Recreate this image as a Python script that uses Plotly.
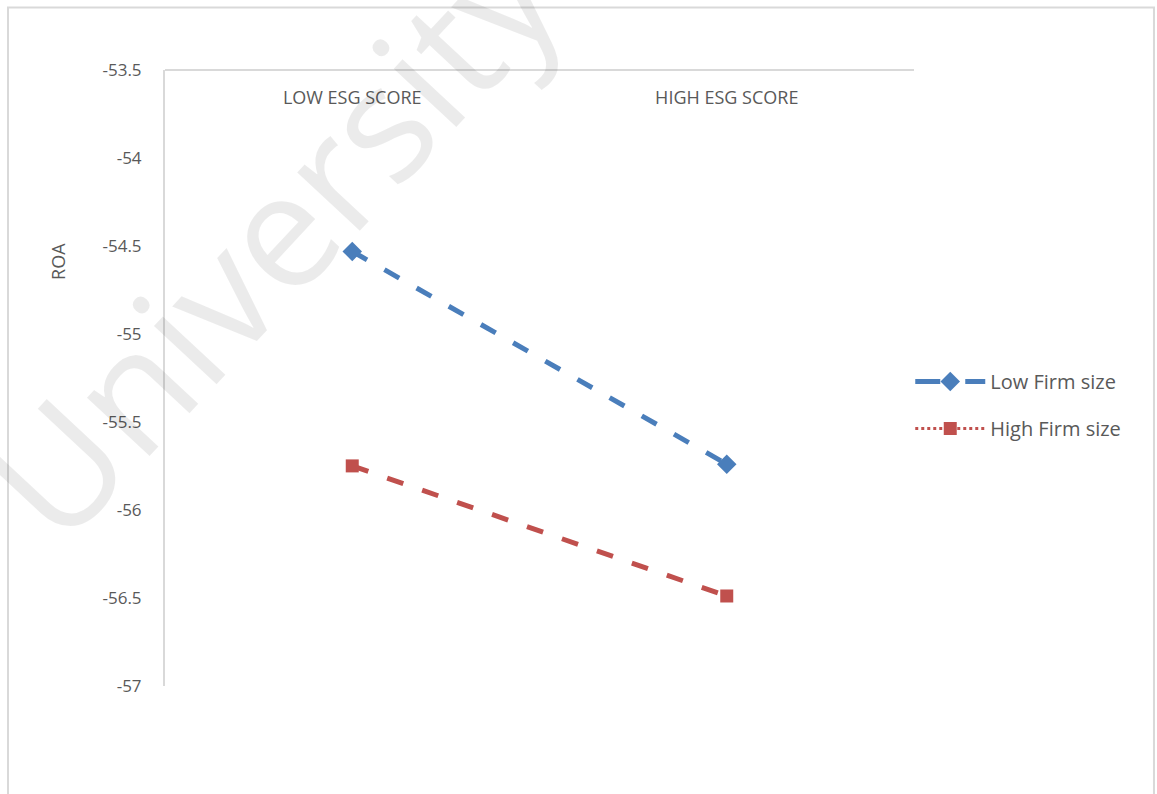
import plotly.graph_objects as go

# ESG score groups on the category axis
categories = ["LOW ESG SCORE", "HIGH ESG SCORE"]

# ROA for each firm-size group
low_firm_size = [-54.53, -55.74]
high_firm_size = [-55.75, -56.49]

series_names = ["Low Firm size", "High Firm size"]

# y-axis ticks
y_tick_values = [-53.5, -54, -54.5, -55, -55.5, -56, -56.5, -57]
y_tick_labels = ["-53.5", "-54", "-54.5", "-55", "-55.5", "-56", "-56.5", "-57"]

BLUE = "#4a7ebb"
RED = "#c0504d"
TEXT = "#595959"
AXIS = "#d9d9d9"
FONT = "Open Sans"

fig = go.Figure()

# plotted lines (legend entries are drawn separately below)
fig.add_trace(go.Scatter(
    x=categories, y=low_firm_size, mode="lines+markers", showlegend=False,
    line=dict(color=BLUE, width=5, dash="17px,20px"),
    marker=dict(symbol="diamond", size=15, color=BLUE),
))
fig.add_trace(go.Scatter(
    x=categories, y=high_firm_size, mode="lines+markers", showlegend=False,
    line=dict(color=RED, width=5, dash="17px,20px"),
    marker=dict(symbol="square", size=13, color=RED),
))

# legend samples
fig.add_trace(go.Scatter(
    x=[None], y=[None], mode="lines+markers", name=series_names[0],
    legendgroup="a",
    line=dict(color=BLUE, width=5, dash="longdash"),
    marker=dict(symbol="diamond", size=15, color=BLUE),
))
fig.add_trace(go.Scatter(
    x=[None], y=[None], mode="lines+markers", name=series_names[1],
    legendgroup="b",
    line=dict(color=RED, width=3, dash="dot"),
    marker=dict(symbol="square", size=13, color=RED),
))

fig.update_layout(
    width=1157, height=794,
    margin=dict(l=165, r=243, t=70, b=108),
    paper_bgcolor="white", plot_bgcolor="white",
    font=dict(family=FONT, color=TEXT, size=16),
    legend=dict(
        x=0.995, y=0.456, xanchor="left", yanchor="middle",
        font=dict(size=20, color=TEXT), tracegroupgap=18,
        itemwidth=70, bgcolor="rgba(0,0,0,0)",
    ),
    # category axis sits on the top edge of the plot, labels hanging below it
    xaxis=dict(
        type="category", side="bottom", anchor="free", position=1.0,
        range=[-0.5, 1.5],
        showline=True, linecolor=AXIS, linewidth=2,
        showgrid=False, zeroline=False, ticks="",
        ticklabelstandoff=11,
        tickfont=dict(size=18, color=TEXT),
    ),
    yaxis=dict(
        range=[-57.002, -53.498], tickvals=y_tick_values, ticktext=y_tick_labels,
        showline=True, linecolor=AXIS, linewidth=2,
        showgrid=False, zeroline=False, ticks="", ticklabelstandoff=18,
        tickfont=dict(size=17, color=TEXT),
    ),
    annotations=[
        dict(text="ROA", xref="paper", yref="paper", x=-0.1429, y=0.69,
             xanchor="center", yanchor="middle",
             showarrow=False, textangle=-90,
             font=dict(size=18, color=TEXT, family=FONT)),
        dict(text="University", xref="paper", yref="paper",
             x=0.139, y=0.729, xanchor="center", yanchor="middle",
             showarrow=False, textangle=-47,
             font=dict(size=160, color="rgba(0,0,0,0.08)", family=FONT)),
    ],
    shapes=[
        dict(type="rect", xref="paper", yref="paper",
             x0=-0.2096, x1=1.3204, y0=-0.19, y1=1.1015,
             line=dict(color=AXIS, width=2), layer="below"),
    ],
)

fig.write_html("out.html")
